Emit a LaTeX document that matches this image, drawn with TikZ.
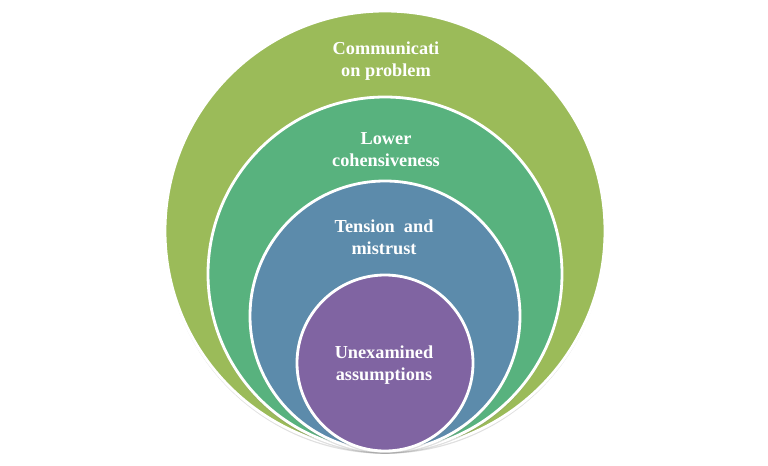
\documentclass[tikz,border=0pt]{standalone}
\usepackage{fontspec}
\setmainfont{Liberation Serif}
\usetikzlibrary{shadows}

\definecolor{olivegreen}{HTML}{9BBB59}
\definecolor{seagreen}{HTML}{58B27E}
\definecolor{steelblue}{HTML}{5C8BAB}
\definecolor{plum}{HTML}{8064A2}

\begin{document}
\begin{tikzpicture}
    % Styles
    \tikzstyle{ring} = [draw=white, line width=2pt, circle, inner sep=0pt, drop shadow={shadow xshift=0pt, shadow yshift=-2pt, opacity=0.25}]
    \tikzstyle{caption} = [text=white, font=\fontsize{13}{15.5}\selectfont\bfseries, align=center]

    \useasboundingbox (0,0) rectangle (19.2,11.625);

    % Rings
    \node[ring, fill=olivegreen, minimum size=11cm] (comm) at (9.625, 5.85) {};
    \node[ring, fill=seagreen, minimum size=8.85cm] (cohesion) at (9.625, 4.775) {};
    \node[ring, fill=steelblue, minimum size=6.75cm] (tension) at (9.625, 3.725) {};
    \node[ring, fill=plum, minimum size=4.4cm] (assume) at (9.625, 2.55) {};

    % Labels
    \node[caption] (commtext) at (9.65, 10.1) {Communicati\\on problem};
    \node[caption] (cohesiontext) at (9.65, 7.88) {Lower\\cohensiveness};
    \node[caption] (tensiontext) at (9.6, 5.7) {Tension~~and\\mistrust};
    \node[caption] (assumetext) at (9.6, 2.5) {Unexamined\\assumptions};
\end{tikzpicture}
\end{document}
